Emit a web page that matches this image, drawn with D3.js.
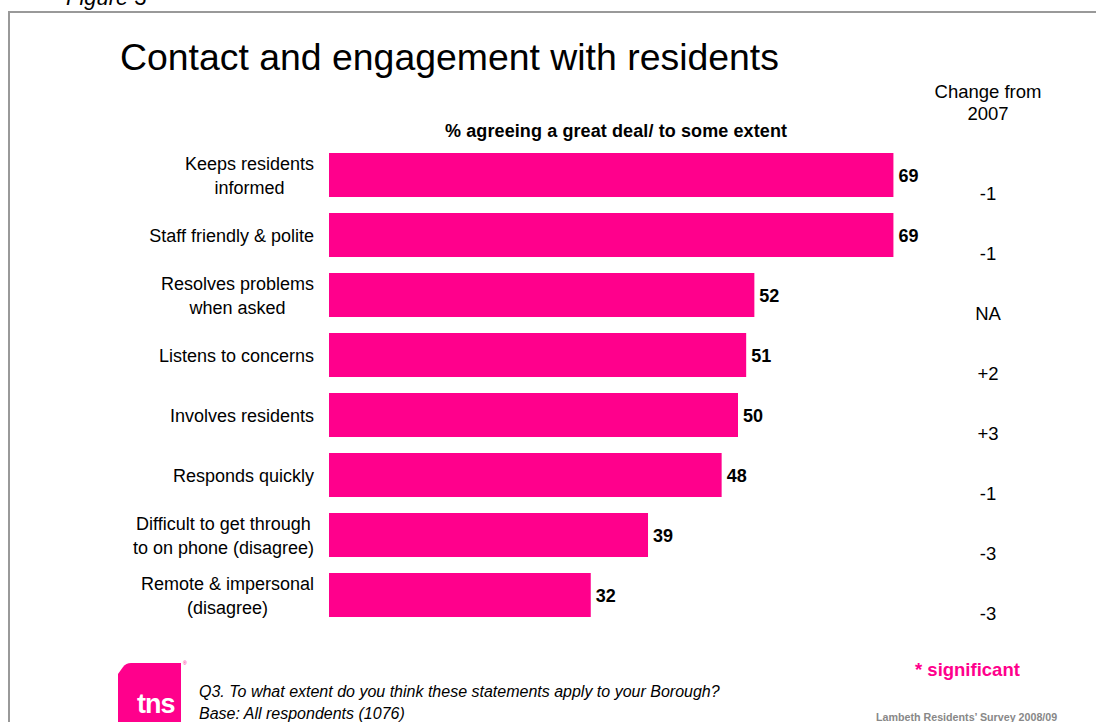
<!DOCTYPE html>
<html>
<head>
<meta charset="utf-8">
<script src="https://cdn.jsdelivr.net/npm/d3@7"></script>
<style>
  html, body { margin: 0; padding: 0; background: #fff; }
  svg { display: block; font-family: "Liberation Sans", Arial, sans-serif; }
</style>
</head>
<body>
<svg id="chart" width="1096" height="722"></svg>
<script>
// Statements (line breaks mark wrapped labels)
const categories = [
  "Keeps residents\ninformed",
  "Staff friendly & polite",
  "Resolves problems\nwhen asked",
  "Listens to concerns",
  "Involves residents",
  "Responds quickly",
  "Difficult to get through\nto on phone (disagree)",
  "Remote & impersonal\n(disagree)"
];
// % agreeing a great deal / to some extent
const agreeValues = [69, 69, 52, 51, 50, 48, 39, 32];
// Change from 2007
const changeLabels = ["-1", "-1", "NA", "+2", "+3", "-1", "-3", "-3"];

const PINK = "#FF008C";
const svg = d3.select("#chart");

// Page frame
svg.append("path")
  .attr("d", "M9,723 L9,12 L1097,12")
  .attr("fill", "none")
  .attr("stroke", "#999")
  .attr("stroke-width", 2);

svg.append("text")
  .attr("x", 66).attr("y", 5)
  .attr("font-size", 22).attr("font-style", "italic")
  .attr("fill", "#000")
  .text("Figure 3");

svg.append("text")
  .attr("x", 120).attr("y", 70)
  .attr("font-size", 37.4)
  .attr("fill", "#000")
  .text("Contact and engagement with residents");

svg.append("text")
  .attr("x", 616).attr("y", 137)
  .attr("text-anchor", "middle")
  .attr("font-size", 18).attr("font-weight", "bold")
  .attr("textLength", 342)
  .text("% agreeing a great deal/ to some extent");

const hdr = svg.append("text")
  .attr("x", 988).attr("y", 98)
  .attr("text-anchor", "middle")
  .attr("font-size", 18.5);
hdr.append("tspan").attr("x", 988).text("Change from");
hdr.append("tspan").attr("x", 988).attr("dy", 22).text("2007");

// Scales
const x = d3.scaleLinear().domain([0, 100]).range([329, 1147]);
const y = d3.scaleBand()
  .domain(categories)
  .range([153, 617])
  .paddingInner(16 / 60)
  .paddingOuter(0);

const rows = categories.map((c, i) => ({ cat: c, value: agreeValues[i], change: changeLabels[i] }));

// Bars
svg.append("g").selectAll("rect")
  .data(rows)
  .join("rect")
  .attr("x", x(0))
  .attr("y", d => y(d.cat))
  .attr("width", d => x(d.value) - x(0))
  .attr("height", y.bandwidth())
  .attr("fill", PINK);

// Value labels
svg.append("g").selectAll("text")
  .data(rows)
  .join("text")
  .attr("x", d => x(d.value) + 5)
  .attr("y", d => y(d.cat) + y.bandwidth() / 2 + 7)
  .attr("font-size", 18).attr("font-weight", "bold")
  .text(d => d.value);

// Category labels: right-aligned block, lines centred within it
const catG = svg.append("g");
rows.forEach(d => {
  const lines = d.cat.split("\n");
  const lh = 24;
  const cy = y(d.cat) + y.bandwidth() / 2;
  const t = catG.append("text")
    .attr("text-anchor", "middle")
    .attr("font-size", 18)
    .attr("fill", "#000");
  lines.forEach((ln, k) => {
    t.append("tspan")
      .attr("x", 0)
      .attr("y", cy + 6.5 + (k - (lines.length - 1) / 2) * lh)
      .text(ln);
  });
  const w = t.node().getBBox().width;
  t.selectAll("tspan").attr("x", 314 - w / 2);
});

// Change labels
svg.append("g").selectAll("text")
  .data(rows)
  .join("text")
  .attr("x", 988)
  .attr("y", d => y(d.cat) + y.bandwidth() / 2 + 24.5)
  .attr("text-anchor", "middle")
  .attr("font-size", 18.5)
  .text(d => d.change);

// Footer
svg.append("text")
  .attr("x", 915).attr("y", 676)
  .attr("font-size", 18.5).attr("font-weight", "bold")
  .attr("fill", PINK)
  .text("* significant");

const foot = svg.append("text")
  .attr("font-size", 16).attr("font-style", "italic");
foot.append("tspan").attr("x", 199).attr("y", 697)
  .text("Q3. To what extent do you think these statements apply to your Borough?");
foot.append("tspan").attr("x", 199).attr("y", 719)
  .text("Base: All respondents (1076)");

svg.append("text")
  .attr("x", 876).attr("y", 721)
  .attr("font-size", 10.7).attr("font-weight", "bold")
  .attr("fill", "#888")
  .text("Lambeth Residents\u2019 Survey 2008/09");

// tns logo
const logo = svg.append("g");
logo.append("path")
  .attr("d", "M118,674 L118,722 L181,722 L181,663 L131,663 Q126,663 123,667 Z")
  .attr("fill", PINK);
logo.append("text")
  .attr("x", 137).attr("y", 713)
  .attr("font-size", 27).attr("font-weight", "bold")
  .attr("fill", "#fff")
  .attr("letter-spacing", -1)
  .text("tns");
logo.append("text")
  .attr("x", 183).attr("y", 665)
  .attr("font-size", 5)
  .attr("fill", PINK)
  .text("\u00AE");
</script>
</body>
</html>
